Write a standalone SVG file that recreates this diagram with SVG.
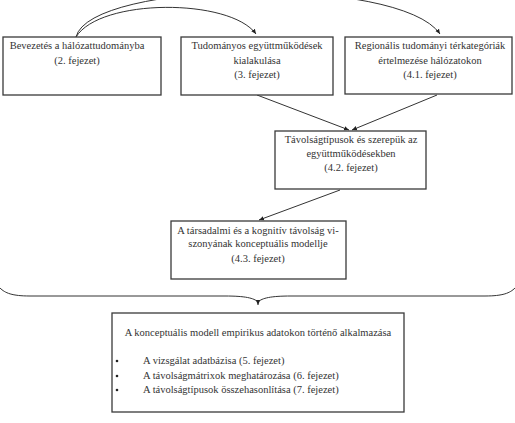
<svg xmlns="http://www.w3.org/2000/svg" width="515" height="423" viewBox="0 0 515 423">
<style>
.box{fill:#fff;stroke:#3a3a3a;stroke-width:1.3}
.t{font-family:"Liberation Serif","DejaVu Serif",serif;font-size:10.5px;fill:#333;text-anchor:middle}
.l{text-anchor:start}
.c{fill:none;stroke:#333;stroke-width:1}
</style>
<defs>
<marker id="ah" markerWidth="6" markerHeight="6" refX="5" refY="3" orient="auto" markerUnits="userSpaceOnUse">
<path d="M0,0.8 L5,3 L0,5.2 Z" fill="#222"/>
</marker>
</defs>
<rect width="515" height="423" fill="#fff"/>
<g id="connectors">
<path class="c" d="M76,37 C90,-20 400,-25 440,34" marker-end="url(#ah)"/>
<path class="c" d="M76,37 C100,-2 230,-2 256,34" marker-end="url(#ah)"/>
<path class="c" d="M257,95 L349,130" marker-end="url(#ah)"/>
<path class="c" d="M437,95 L352,130" marker-end="url(#ah)"/>
<path class="c" d="M340,190 L259,220" marker-end="url(#ah)"/>
<path class="c" d="M0,288 C5,293 12,296 30,296 L225,296 C245,296 254,298 258,302 C262,298 271,296 291,296 L485,296 C503,296 510,293 515,288"/>
<path class="c" d="M258,302 L258,305" marker-end="url(#ah)"/>
</g>
<g id="n1">
<rect class="box" x="3" y="37" width="158" height="58"/>
<text class="t" x="77" y="49">Bevezetés a hálózattudományba</text>
<text class="t" x="77" y="64">(2. fejezet)</text>
</g>
<g id="n2">
<rect class="box" x="181" y="37" width="152" height="58"/>
<text class="t" x="257" y="49">Tudományos együttműködések</text>
<text class="t" x="257" y="64">kialakulása</text>
<text class="t" x="257" y="78">(3. fejezet)</text>
</g>
<g id="n3">
<rect class="box" x="345" y="37" width="167" height="57"/>
<text class="t" x="430" y="49">Regionális tudományi térkategóriák</text>
<text class="t" x="430" y="64">értelmezése hálózatokon</text>
<text class="t" x="430" y="78">(4.1. fejezet)</text>
</g>
<g id="n4">
<rect class="box" x="275" y="131" width="151" height="58"/>
<text class="t" x="351" y="143">Távolságtípusok és szerepük az</text>
<text class="t" x="351" y="157">együttműködésekben</text>
<text class="t" x="351" y="171">(4.2. fejezet)</text>
</g>
<g id="n5">
<rect class="box" x="171" y="221" width="175" height="58"/>
<text class="t" x="258" y="234">A társadalmi és a kognitív távolság vi-</text>
<text class="t" x="258" y="247">szonyának konceptuális modellje</text>
<text class="t" x="258" y="262">(4.3. fejezet)</text>
</g>
<g id="n6">
<rect class="box" x="112" y="313" width="292" height="99"/>
<text class="t" x="258" y="336">A konceptuális modell empirikus adatokon történő alkalmazása</text>
<circle cx="117" cy="361" r="1.3" fill="#222"/>
<circle cx="117" cy="376" r="1.3" fill="#222"/>
<circle cx="117" cy="390" r="1.3" fill="#222"/>
<text class="t l" x="143" y="364">A vizsgálat adatbázisa (5. fejezet)</text>
<text class="t l" x="143" y="379">A távolságmátrixok meghatározása (6. fejezet)</text>
<text class="t l" x="143" y="393">A távolságtípusok összehasonlítása (7. fejezet)</text>
</g>
</svg>
